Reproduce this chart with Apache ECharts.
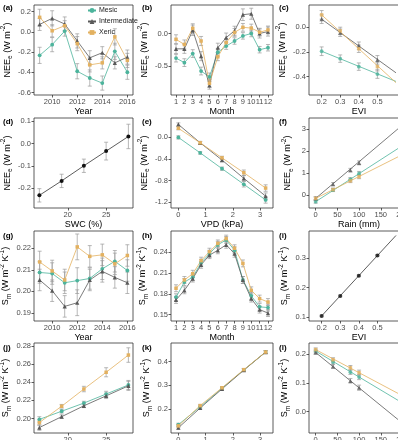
<!DOCTYPE html>
<html>
<head>
<meta charset="utf-8">
<script src="https://cdn.jsdelivr.net/npm/echarts@6/dist/echarts.min.js"></script>
<style>
  body { margin: 0; background: #fff; }
  #chart { width: 398px; height: 440px; }
</style>
</head>
<body>
<div id="chart"></div>
<script>
// x values
const years = [2009, 2010, 2011, 2012, 2013, 2014, 2015, 2016];
const months = [1, 2, 3, 4, 5, 6, 7, 8, 9, 10, 11, 12];
const evi = [0.2, 0.3, 0.4, 0.5];
const swc = [16.3, 19.2, 22.1, 25.0, 27.9];
const vpd = [0, 0.8, 1.6, 2.4, 3.2];
const rain = [0, 40, 80, 100];

// (a) NEEe by year
const aMesic = [-0.233, -0.127, 0.007, -0.39, -0.457, -0.507, -0.193, -0.40];
const aMesicErr = [0.08, 0.07, 0.05, 0.075, 0.08, 0.07, 0.08, 0.07];
const aInter = [0.073, 0.133, 0.077, -0.09, -0.257, -0.207, -0.307, -0.25];
const aInterErr = [0.06, 0.075, 0.07, 0.07, 0.07, 0.06, 0.06, 0.07];
const aXeric = [0.143, 0.01, 0.06, -0.117, -0.327, -0.307, -0.05, -0.283];
const aXericErr = [0.08, 0.06, 0.05, 0.07, 0.07, 0.06, 0.08, 0.07];

// (b) NEEe by month
const bMesic = [-0.38, -0.45, -0.31, -0.58, -0.67, -0.29, -0.195, -0.116, -0.037, 0.0, -0.25, -0.22];
const bMesicErr = [0.06, 0.06, 0.06, 0.06, 0.06, 0.06, 0.05, 0.05, 0.05, 0.05, 0.05, 0.05];
const bInter = [-0.237, -0.237, 0.05, -0.35, -0.80, -0.22, -0.063, 0.042, 0.29, 0.305, 0.0, 0.03];
const bInterErr = [0.075, 0.07, 0.08, 0.07, 0.06, 0.07, 0.07, 0.07, 0.09, 0.085, 0.07, 0.07];
const bXeric = [-0.09, -0.17, 0.08, -0.116, -0.77, -0.36, -0.14, 0.016, 0.095, 0.084, 0.02, 0.055];
const bXericErr = [0.07, 0.07, 0.07, 0.07, 0.06, 0.06, 0.06, 0.06, 0.06, 0.06, 0.06, 0.06];

// (c) NEEe vs EVI
const cMesic = [-0.195, -0.255, -0.32, -0.38];
const cInter = [0.065, -0.045, -0.15, -0.265];
const cXeric = [0.10, -0.03, -0.175, -0.32];
const cErr = [0.035, 0.03, 0.03, 0.035];
const cMesicFit = [[0.2, -0.195], [0.6, -0.44]];
const cInterFit = [[0.2, 0.065], [0.6, -0.37]];
const cXericFit = [[0.2, 0.10], [0.6, -0.45]];

// (d) NEEe vs SWC
const dAll = [-0.233, -0.168, -0.100, -0.034, 0.032];
const dErr = [0.03, 0.03, 0.03, 0.04, 0.055];

// (e) NEEe vs VPD
const eMesic = [0.0, -0.287, -0.58, -0.87, -1.16];
const eInter = [0.24, -0.10, -0.42, -0.76, -1.09];
const eXeric = [0.17, -0.10, -0.38, -0.655, -0.94];
const eErr = [0.03, 0.025, 0.03, 0.05, 0.06];

// (f) NEEe vs Rain
const fMesic = [-0.3, 0.23, 0.72, 0.99];
const fInter = [-0.15, 0.5, 1.14, 1.47];
const fXeric = [-0.15, 0.25, 0.65, 0.84];
const fErr = [0.07, 0.07, 0.08, 0.09];
const fMesicFit = [[0, -0.3], [200, 2.26]];
const fInterFit = [[0, -0.15], [200, 3.2]];
const fXericFit = [[0, -0.15], [200, 1.85]];

// (g) Sm by year
const gMesic = [0.2088, 0.2083, 0.2040, 0.2050, 0.2060, 0.2105, 0.2140, 0.2097];
const gInter = [0.2053, 0.2003, 0.1930, 0.1947, 0.2053, 0.2093, 0.2065, 0.2040];
const gXeric = [0.2137, 0.2095, 0.2053, 0.2207, 0.2163, 0.2170, 0.2128, 0.2167];
const gErr = [0.005, 0.005, 0.005, 0.006, 0.005, 0.005, 0.005, 0.005];

// (h) Sm by month
const hMesic = [0.175, 0.197, 0.204, 0.225, 0.238, 0.251, 0.258, 0.243, 0.200, 0.177, 0.161, 0.160];
const hInter = [0.171, 0.185, 0.202, 0.222, 0.236, 0.243, 0.251, 0.238, 0.200, 0.173, 0.157, 0.152];
const hXeric = [0.188, 0.200, 0.209, 0.228, 0.241, 0.253, 0.260, 0.246, 0.224, 0.185, 0.173, 0.168];
const hErr = [0.005, 0.005, 0.005, 0.005, 0.005, 0.005, 0.005, 0.005, 0.005, 0.005, 0.005, 0.005];

// (i) Sm vs EVI
const iAll = [0.105, 0.172, 0.240, 0.308];
const iErr = [0.003, 0.003, 0.003, 0.003];
const iFit = [[0.2, 0.105], [0.6, 0.375]];

// (j) Sm vs SWC
const jMesic = [0.199, 0.208, 0.217, 0.227, 0.237];
const jInter = [0.190, 0.202, 0.214, 0.225, 0.236];
const jXeric = [0.1955, 0.2135, 0.2325, 0.251, 0.270];
const jErr = [0.003, 0.002, 0.002, 0.003, 0.005];
const jXericErr = [0.003, 0.002, 0.003, 0.005, 0.008];

// (k) Sm vs VPD
const kMesic = [0.135, 0.21, 0.288, 0.365, 0.44];
const kInter = [0.122, 0.205, 0.285, 0.364, 0.44];
const kXeric = [0.13, 0.215, 0.29, 0.366, 0.44];
const kErr = [0.006, 0.005, 0.005, 0.005, 0.006];

// (l) Sm vs Rain
const lMesic = [0.21, 0.172, 0.137, 0.12];
const lInter = [0.205, 0.157, 0.107, 0.083];
const lXeric = [0.215, 0.18, 0.152, 0.135];
const lErr = [0.006, 0.007, 0.008, 0.009];
const lMesicFit = [[0, 0.21], [200, 0.03]];
const lInterFit = [[0, 0.205], [200, -0.04]];
const lXericFit = [[0, 0.215], [200, 0.055]];

const FONT = '"Liberation Sans", Arial, sans-serif';
const COL = { Mesic: '#4cb49c', Intermediate: '#595959', Xeric: '#e3b160', All: '#111' };
const SYM = { Mesic: 'circle', Intermediate: 'triangle', Xeric: 'rect', All: 'circle' };
const SSZ = { Mesic: 3.8, Intermediate: 4.2, Xeric: 3.5, All: 4 };

const colL = [34, 171, 309], colW = [99, 102, 100];
const rowT = [5, 118, 231, 343], rowH = 90;
const labL = [3, 142, 279], labT = [4, 118, 232, 344];

const neeName = '{t|NEE}{s|e}{t| (W m}{p|-2}{t|)}';
const smName = '{t|S}{s|m}{t| (W m}{p|-2}{t| K}{p|-1}{t|)}';
const nameRich = {
  t: { fontSize: 9, lineHeight: 14, fontFamily: FONT, color: '#000' },
  s: { fontSize: 6.5, lineHeight: 8, verticalAlign: 'bottom', fontFamily: FONT, color: '#000' },
  p: { fontSize: 6.5, lineHeight: 8, verticalAlign: 'top', fontFamily: FONT, color: '#000' }
};

const grids = [], xAxes = [], yAxes = [], series = [], titles = [];

function fmt(v, d) {
  if (Math.abs(v) < 1e-9) v = 0;
  return v.toFixed(d);
}

function axis(gi, c, dim) {
  const isY = dim === 'y';
  return {
    type: 'value', gridIndex: gi, min: c.min, max: c.max,
    name: c.name, nameLocation: 'middle',
    nameGap: isY ? 14 : 10, nameRotate: isY ? 90 : 0,
    nameTextStyle: isY ? { rich: nameRich } : { fontSize: 9, fontFamily: FONT, color: '#000' },
    axisLine: { show: false, onZero: false },
    axisTick: { show: true, length: 2.5, customValues: c.ticks, lineStyle: { color: '#333', width: 0.8 } },
    axisLabel: {
      customValues: c.ticks, formatter: v => fmt(v, c.dec), hideOverlap: false,
      fontSize: 7.5, color: '#4d4d4d', margin: 3, fontFamily: FONT
    },
    splitLine: { show: false }
  };
}

function panel(label, col, row, xc, yc) {
  const gi = grids.length;
  grids.push({
    left: colL[col], top: rowT[row], width: colW[col], height: rowH,
    show: true, borderColor: '#333', borderWidth: 0.8, backgroundColor: 'transparent',
    containLabel: false, outerBoundsMode: 'none'
  });
  xAxes.push(axis(gi, xc, 'x'));
  yAxes.push(axis(gi, yc, 'y'));
  titles.push({
    text: label, left: labL[col], top: labT[row], padding: 0,
    textStyle: { fontSize: 8, fontWeight: 'bold', fontFamily: FONT, color: '#000' }
  });
  return gi;
}

function errRender(params, api) {
  const x = api.value(0);
  const p1 = api.coord([x, api.value(1)]);
  const p2 = api.coord([x, api.value(2)]);
  const w = 2;
  const style = { stroke: '#999', lineWidth: 0.7 };
  return {
    type: 'group', children: [
      { type: 'line', shape: { x1: p1[0], y1: p1[1], x2: p2[0], y2: p2[1] }, style },
      { type: 'line', shape: { x1: p1[0] - w, y1: p1[1], x2: p1[0] + w, y2: p1[1] }, style },
      { type: 'line', shape: { x1: p2[0] - w, y1: p2[1], x2: p2[0] + w, y2: p2[1] }, style }
    ]
  };
}

function errs(gi, xs, ys, es) {
  series.push({
    type: 'custom', name: 'err', xAxisIndex: gi, yAxisIndex: gi, z: 1, silent: true,
    data: xs.map((x, i) => [x, ys[i] - es[i], ys[i] + es[i]]),
    encode: { x: 0, y: [1, 2] }, renderItem: errRender
  });
}

function line(gi, name, xs, ys, es) {
  if (es) errs(gi, xs, ys, es);
  series.push({
    type: 'line', name, xAxisIndex: gi, yAxisIndex: gi, z: 2,
    data: xs.map((x, i) => [x, ys[i]]),
    symbol: SYM[name], symbolSize: SSZ[name], showSymbol: true,
    lineStyle: { width: 0.8, color: name === 'All' ? '#333' : COL[name] },
    itemStyle: { color: COL[name] }
  });
}

function fitted(gi, name, xs, ys, es, fit) {
  errs(gi, xs, ys, es);
  series.push({
    type: 'line', name, xAxisIndex: gi, yAxisIndex: gi, z: 2, data: fit,
    showSymbol: false, clip: true,
    lineStyle: { width: 0.8, color: name === 'All' ? '#333' : COL[name] },
    itemStyle: { color: COL[name] }
  });
  series.push({
    type: 'scatter', name, xAxisIndex: gi, yAxisIndex: gi, z: 3,
    data: xs.map((x, i) => [x, ys[i]]),
    symbol: SYM[name], symbolSize: SSZ[name], itemStyle: { color: COL[name] }
  });
}

const yearAx = { min: 2008.55, max: 2016.45, ticks: [2010, 2012, 2014, 2016], dec: 0, name: 'Year' };
const monthAx = { min: 0.4, max: 12.6, ticks: months, dec: 0, name: 'Month' };
const eviAx = { min: 0.132, max: 0.67, ticks: [0.2, 0.3, 0.4, 0.5], dec: 1, name: 'EVI' };
const swcAx = { min: 15.6, max: 28.5, ticks: [20, 25], dec: 0, name: 'SWC (%)' };
const vpdAx = { min: -0.27, max: 3.47, ticks: [0, 1, 2, 3], dec: 0, name: 'VPD (kPa)' };
const rainAx = { min: -15.4, max: 215, ticks: [0, 50, 100, 150, 200], dec: 0, name: 'Rain (mm)' };

// row 1
let g = panel('(a)', 0, 0, yearAx, { min: -0.625, max: 0.265, ticks: [-0.6, -0.4, -0.2, 0, 0.2], dec: 1, name: neeName });
line(g, 'Mesic', years, aMesic, aMesicErr);
line(g, 'Intermediate', years, aInter, aInterErr);
line(g, 'Xeric', years, aXeric, aXericErr);

g = panel('(b)', 1, 0, monthAx, { min: -0.95, max: 0.44, ticks: [-0.5, 0], dec: 1, name: neeName });
line(g, 'Mesic', months, bMesic, bMesicErr);
line(g, 'Intermediate', months, bInter, bInterErr);
line(g, 'Xeric', months, bXeric, bXericErr);

g = panel('(c)', 2, 0, eviAx, { min: -0.55, max: 0.18, ticks: [-0.4, -0.2, 0], dec: 1, name: neeName });
fitted(g, 'Mesic', evi, cMesic, cErr, cMesicFit);
fitted(g, 'Intermediate', evi, cInter, cErr, cInterFit);
fitted(g, 'Xeric', evi, cXeric, cErr, cXericFit);

// row 2
g = panel('(d)', 0, 1, swcAx, { min: -0.29, max: 0.115, ticks: [-0.2, -0.1, 0, 0.1], dec: 1, name: neeName });
line(g, 'All', swc, dAll, dErr);

g = panel('(e)', 1, 1, vpdAx, { min: -1.31, max: 0.36, ticks: [-1.2, -0.8, -0.4, 0], dec: 1, name: neeName });
line(g, 'Mesic', vpd, eMesic, eErr);
line(g, 'Intermediate', vpd, eInter, eErr);
line(g, 'Xeric', vpd, eXeric, eErr);

g = panel('(f)', 2, 1, rainAx, { min: -0.59, max: 3.52, ticks: [0, 1, 2, 3], dec: 0, name: neeName });
fitted(g, 'Mesic', rain, fMesic, fErr, fMesicFit);
fitted(g, 'Intermediate', rain, fInter, fErr, fInterFit);
fitted(g, 'Xeric', rain, fXeric, fErr, fXericFit);

// row 3
g = panel('(g)', 0, 2, yearAx, { min: 0.1862, max: 0.2281, ticks: [0.19, 0.20, 0.21, 0.22], dec: 2, name: smName });
line(g, 'Mesic', years, gMesic, gErr);
line(g, 'Intermediate', years, gInter, gErr);
line(g, 'Xeric', years, gXeric, gErr);

g = panel('(h)', 1, 2, monthAx, { min: 0.1405, max: 0.271, ticks: [0.15, 0.18, 0.21, 0.24], dec: 2, name: smName });
line(g, 'Mesic', months, hMesic, hErr);
line(g, 'Intermediate', months, hInter, hErr);
line(g, 'Xeric', months, hXeric, hErr);

g = panel('(i)', 2, 2, eviAx, { min: 0.088, max: 0.39, ticks: [0.1, 0.2, 0.3], dec: 1, name: smName });
fitted(g, 'All', evi, iAll, iErr, iFit);

// row 4
g = panel('(j)', 0, 3, swcAx, { min: 0.184, max: 0.2833, ticks: [0.20, 0.22, 0.24, 0.26, 0.28], dec: 2, name: smName });
line(g, 'Mesic', swc, jMesic, jErr);
line(g, 'Intermediate', swc, jInter, jErr);
line(g, 'Xeric', swc, jXeric, jXericErr);

g = panel('(k)', 1, 3, vpdAx, { min: 0.1, max: 0.478, ticks: [0.2, 0.3, 0.4], dec: 1, name: smName });
line(g, 'Mesic', vpd, kMesic, kErr);
line(g, 'Intermediate', vpd, kInter, kErr);
line(g, 'Xeric', vpd, kXeric, kErr);

g = panel('(l)', 2, 3, rainAx, { min: -0.074, max: 0.238, ticks: [0, 0.1, 0.2], dec: 1, name: smName });
fitted(g, 'Mesic', rain, lMesic, lErr, lMesicFit);
fitted(g, 'Intermediate', rain, lInter, lErr, lInterFit);
fitted(g, 'Xeric', rain, lXeric, lErr, lXericFit);

const chart = echarts.init(document.getElementById('chart'), null, { renderer: 'canvas' });
chart.setOption({
  animation: false,
  backgroundColor: '#fff',
  title: titles,
  legend: {
    data: ['Mesic', 'Intermediate', 'Xeric'],
    orient: 'vertical', left: 87, top: 7, padding: 0,
    itemWidth: 8, itemHeight: 6, itemGap: 4, selectedMode: false,
    textStyle: { fontSize: 7, fontFamily: FONT, color: '#222', padding: [0, 0, 0, -2] }
  },
  grid: grids,
  xAxis: xAxes,
  yAxis: yAxes,
  series: series
});
</script>
</body>
</html>
